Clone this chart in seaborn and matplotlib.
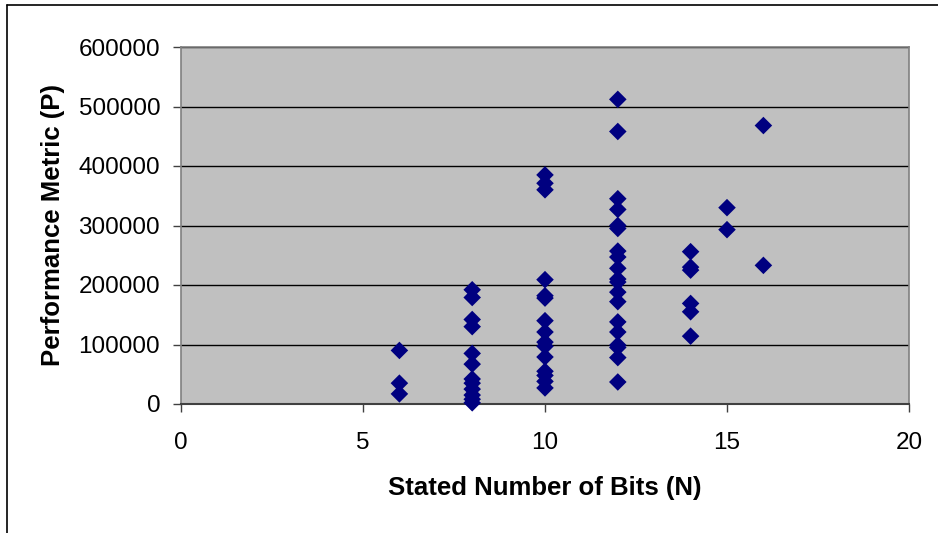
import matplotlib
matplotlib.use("Agg")
import matplotlib.pyplot as plt
import seaborn as sns
import pandas as pd
from matplotlib.lines import Line2D

# ---- data ----
bits_6 = [90000, 35000, 17000]
bits_8 = [192000, 179000, 142000, 130000, 85000, 67000, 42000, 35000, 25000, 15000, 8000, 2000]
bits_10 = [385000, 371000, 360000, 209000, 182000, 178000, 140000, 121000, 104000, 97000,
           79000, 55000, 48000, 38000, 27000]
bits_12 = [512000, 458000, 345000, 327000, 300000, 295000, 257000, 247000, 228000, 210000,
           205000, 188000, 172000, 138000, 121000, 99000, 95000, 78000, 37000]
bits_14 = [256000, 230000, 225000, 169000, 155000, 114000]
bits_15 = [330000, 293000]
bits_16 = [468000, 233000]

groups = {6: bits_6, 8: bits_8, 10: bits_10, 12: bits_12, 14: bits_14, 15: bits_15, 16: bits_16}
x_vals, y_vals = [], []
for n, vals in groups.items():
    x_vals += [n] * len(vals)
    y_vals += vals
df = pd.DataFrame({"N": x_vals, "P": y_vals})

x_ticks = [0, 5, 10, 15, 20]
y_ticks = [0, 100000, 200000, 300000, 400000, 500000, 600000]
x_label = "Stated Number of Bits (N)"
y_label = "Performance Metric (P)"

sns.set_style("white")
plt.rcParams["font.family"] = ["Liberation Sans", "DejaVu Sans"]
plt.rcParams["text.color"] = "black"
plt.rcParams["axes.labelcolor"] = "black"
plt.rcParams["xtick.color"] = "black"
plt.rcParams["ytick.color"] = "black"

fig = plt.figure(figsize=(9.38, 5.33), dpi=100)
ax = fig.add_axes([181 / 938, 1 - 404 / 533, (909 - 181) / 938, (404 - 47) / 533])
ax.set_facecolor("#C0C0C0")

sns.scatterplot(data=df, x="N", y="P", marker="D", s=80, color="#000080",
                edgecolor="none", linewidth=0, ax=ax, clip_on=False, zorder=5, legend=False)

ax.set_xlim(0, 20)
ax.set_ylim(0, 600000)
ax.set_xticks(x_ticks)
ax.set_xticklabels([str(t) for t in x_ticks])
ax.set_yticks(y_ticks)
ax.set_yticklabels([str(t) for t in y_ticks])

ax.yaxis.grid(True, color="black", linewidth=1.0)
ax.xaxis.grid(False)
ax.set_axisbelow(True)

for side in ["top", "right", "left"]:
    ax.spines[side].set_color("#808080")
    ax.spines[side].set_linewidth(1.2)
ax.spines["bottom"].set_color("#404040")
ax.spines["bottom"].set_linewidth(1.5)

ax.tick_params(axis="x", direction="out", length=6, width=1, color="#404040",
               labelcolor="black", labelsize=17.5, pad=14, bottom=True)
ax.tick_params(axis="y", direction="out", length=6, width=1, color="#404040",
               labelcolor="black", labelsize=17.5, pad=9, left=True)

ax.set_xlabel(x_label, fontsize=18.5, fontweight="bold", labelpad=16, color="black")
ax.set_ylabel(y_label, fontsize=18.5, fontweight="bold", labelpad=10, color="black")

# outer chart frame (only top and left edges are visible in the reference)
fig.add_artist(Line2D([7 / 938, 7 / 938], [0, 1 - 5 / 533], transform=fig.transFigure,
                      color="black", linewidth=1.2))
fig.add_artist(Line2D([7 / 938, 1], [1 - 5 / 533, 1 - 5 / 533], transform=fig.transFigure,
                      color="black", linewidth=1.2))

fig.savefig("out.png", dpi=100, facecolor="white")
